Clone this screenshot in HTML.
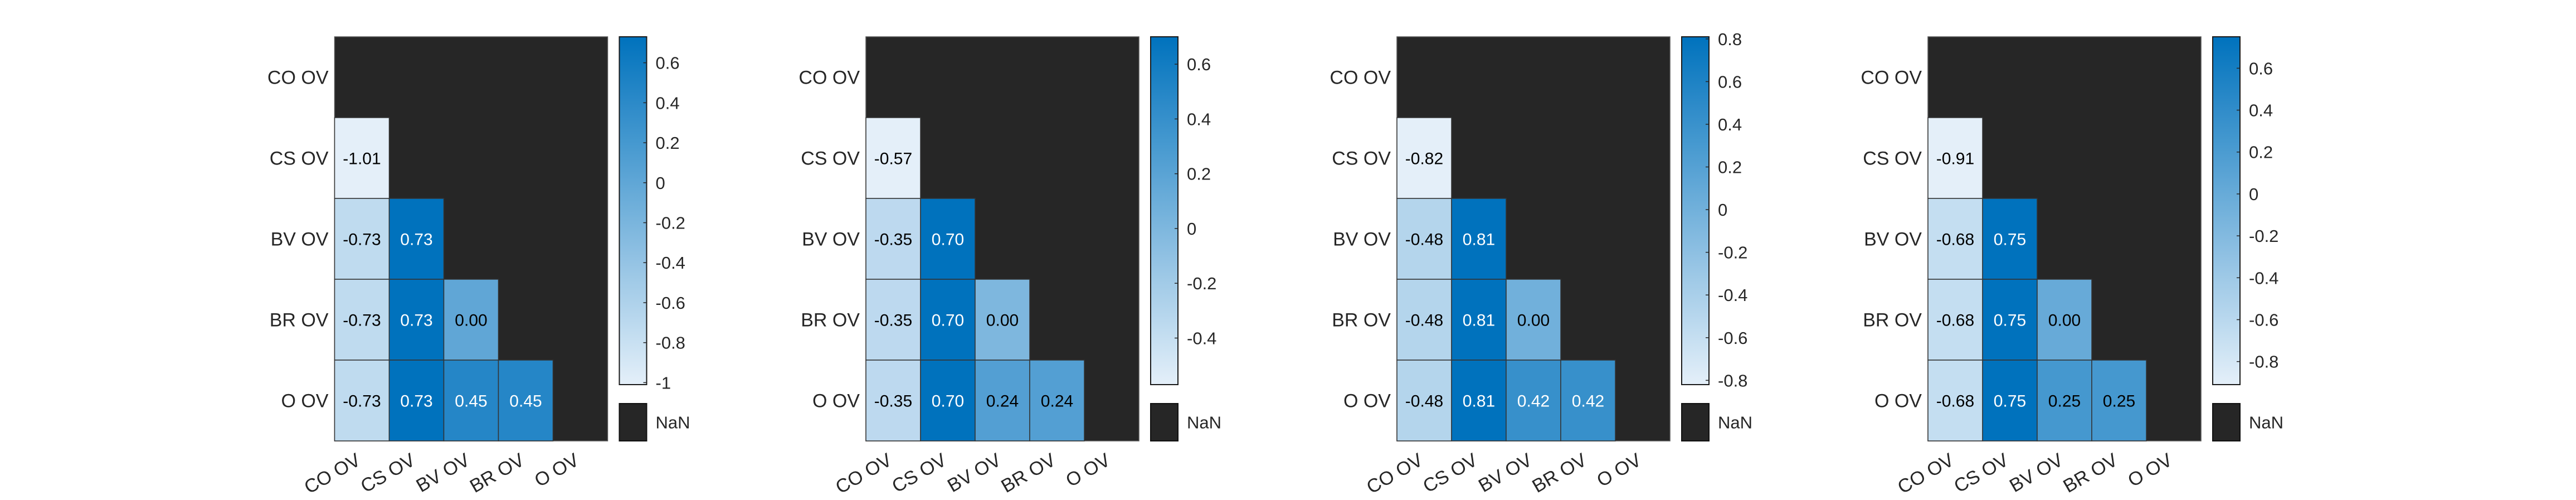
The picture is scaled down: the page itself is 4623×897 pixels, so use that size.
<!DOCTYPE html>
<html><head><meta charset="utf-8">
<style>
html,body{margin:0;padding:0;background:#fff;}
svg{display:block;font-family:"Liberation Sans",Arial,sans-serif;}
</style></head>
<body>
<svg id="fig" width="4623" height="897" viewBox="0 0 4623 897" xmlns="http://www.w3.org/2000/svg"></svg>
<script>
const labels = ["CO OV","CS OV","BV OV","BR OV","O OV"];
// lower-triangle values per panel: rows CS,BV,BR,O ; row i has i+1 entries
const panel1 = [[-1.01],[-0.73,0.73],[-0.73,0.73,0.00],[-0.73,0.73,0.45,0.45]];
const panel2 = [[-0.57],[-0.35,0.70],[-0.35,0.70,0.00],[-0.35,0.70,0.24,0.24]];
const panel3 = [[-0.82],[-0.48,0.81],[-0.48,0.81,0.00],[-0.48,0.81,0.42,0.42]];
const panel4 = [[-0.91],[-0.68,0.75],[-0.68,0.75,0.00],[-0.68,0.75,0.25,0.25]];
const ticks1 = [-1,-0.8,-0.6,-0.4,-0.2,0,0.2,0.4,0.6];
const ticks2 = [-0.4,-0.2,0,0.2,0.4,0.6];
const ticks3 = [-0.8,-0.6,-0.4,-0.2,0,0.2,0.4,0.6,0.8];
const ticks4 = [-0.8,-0.6,-0.4,-0.2,0,0.2,0.4,0.6];
const panels = [panel1,panel2,panel3,panel4];
const tickSets = [ticks1,ticks2,ticks3,ticks4];
const lefts = [600.5,1554,2507,3460];

const NS="http://www.w3.org/2000/svg";
const svg=document.getElementById('fig');
function mk(tag,attrs,parent){const e=document.createElementNS(NS,tag);for(const k in attrs)e.setAttribute(k,attrs[k]);(parent||svg).appendChild(e);return e;}
const lo=[228,239,249], hi=[0,114,189];
function color(t){t=Math.max(0,Math.min(1,t));return 'rgb('+lo.map((c,i)=>Math.round(c+(hi[i]-c)*t)).join(',')+')';}
const TOP=66, BOT=791, W=490, CB_GAP=21, CB_W=49, CB_BOT=690, NAN_TOP=724;
const cw=W/5, ch=(BOT-TOP)/5;
const fmt=v=>(Math.round(v*10)/10).toString();

panels.forEach((data,p)=>{
  const L=lefts[p];
  const g=mk('g',{});
  
  
  const flat=data.flat();
  const vmin=Math.min(...flat), vmax=Math.max(...flat);
  const tOf=v=>(v-vmin)/(vmax-vmin);
  const bg=mk('rect',{x:L,y:TOP,width:W,height:BOT-TOP,fill:'#262626',stroke:'#555','stroke-width':1.5},g);
  
  
  data.forEach((row,ri)=>{
    const r=ri+1;
    row.forEach((v,c)=>{
      const x=L+c*cw, y=TOP+r*ch;
      const t=tOf(v);
      const cell=mk('rect',{x:x,y:y,width:cw,height:ch,fill:color(t),stroke:'#333','stroke-width':1.5},g);
      
      
      const tx=mk('text',{x:x+cw/2,y:y+ch/2+11,'text-anchor':'middle','font-size':30,fill:t>0.72?'#fff':'#000'},g);
      tx.textContent=v.toFixed(2);
      
      
    });
  });
  labels.forEach((lab,i)=>{
    const ty=mk('text',{x:L-11,y:TOP+i*ch+ch/2+12,'text-anchor':'end','font-size':34,fill:'#262626'},g);
    ty.textContent=lab;
    
    
    const cx=L+i*cw+cw/2, cy=BOT+41;
    const tx=mk('text',{x:cx,y:cy,'text-anchor':'end','font-size':34,fill:'#262626',transform:'rotate(-30 '+cx+' '+cy+')'},g);
    tx.textContent=lab;
    
    
  });
  // colorbar
  const cx0=L+W+CB_GAP;
  const defs=mk('defs',{},g);
  const grad=mk('linearGradient',{id:'grad'+p,x1:0,y1:1,x2:0,y2:0},defs);
  for(let s=0;s<=10;s++){mk('stop',{offset:s/10,'stop-color':color(s/10)},grad);}
  const cb=mk('rect',{x:cx0,y:TOP,width:CB_W,height:CB_BOT-TOP,fill:'url(#grad'+p+')',stroke:'#1a1a1a','stroke-width':2},g);
  
  
  const yOf=v=>CB_BOT-(v-vmin)/(vmax-vmin)*(CB_BOT-TOP);
  tickSets[p].forEach(tv=>{
    const y=yOf(tv);
    mk('line',{x1:cx0+CB_W-6,x2:cx0+CB_W,y1:y,y2:y,stroke:'#262626','stroke-width':1.5},g);
    const t=mk('text',{x:cx0+CB_W+16,y:y+11,'font-size':31,fill:'#262626'},g);
    t.textContent=fmt(tv);
    
    
  });
  const nb=mk('rect',{x:cx0,y:NAN_TOP,width:CB_W,height:BOT-NAN_TOP,fill:'#262626',stroke:'#111','stroke-width':2},g);
  
  
  const nt=mk('text',{x:cx0+CB_W+16,y:(NAN_TOP+BOT)/2+11,'font-size':31,fill:'#262626'},g);
  nt.textContent='NaN';
  
  
});
</script>
</body></html>
